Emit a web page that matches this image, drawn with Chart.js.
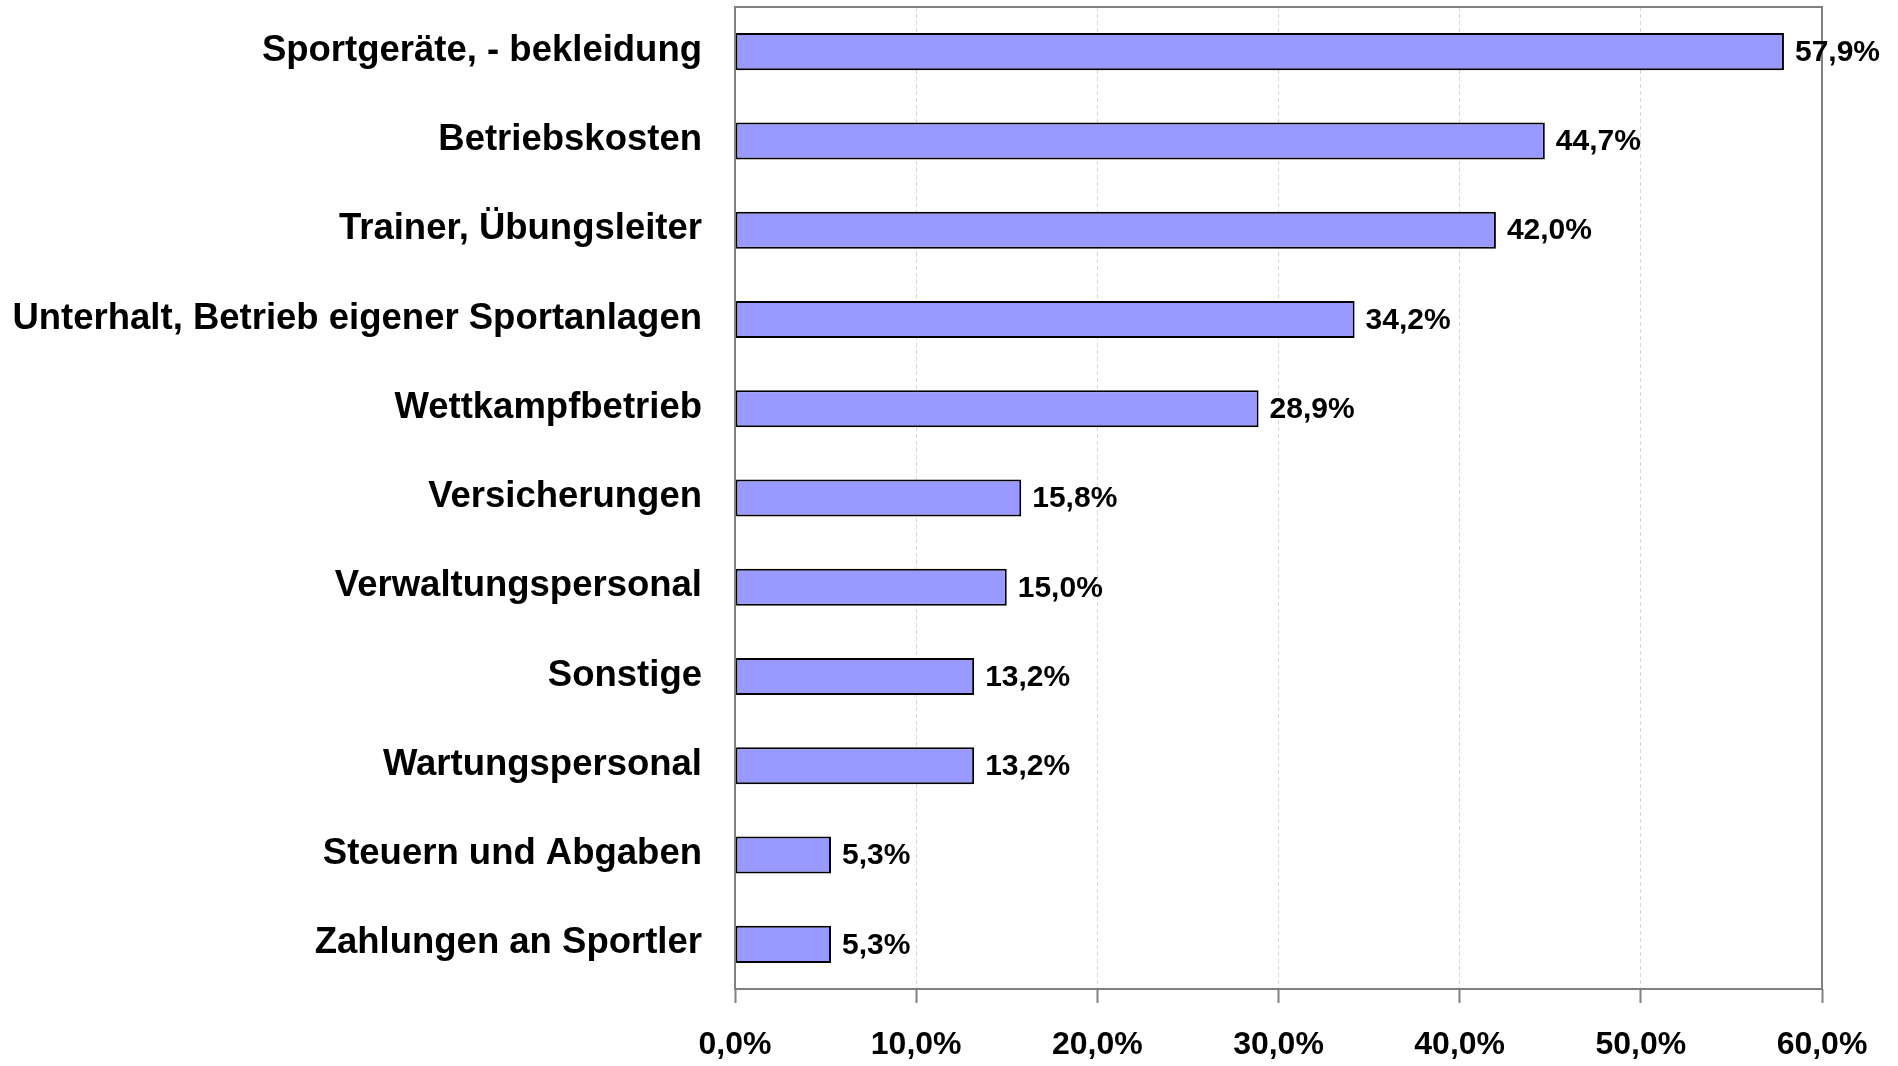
<!DOCTYPE html>
<html>
<head>
<meta charset="utf-8">
<script src="https://cdn.jsdelivr.net/npm/chart.js@4.4.1/dist/chart.umd.min.js"></script>
<style>
  html, body { margin: 0; padding: 0; background: #fff; }
  #wrap { width: 1898px; height: 1066px; position: relative; }
</style>
</head>
<body>
<div id="wrap"><canvas id="chart"></canvas></div>
<script>
const categories = [
    'Sportgeräte, - bekleidung',
    'Betriebskosten',
    'Trainer, Übungsleiter',
    'Unterhalt, Betrieb eigener Sportanlagen',
    'Wettkampfbetrieb',
    'Versicherungen',
    'Verwaltungspersonal',
    'Sonstige',
    'Wartungspersonal',
    'Steuern und Abgaben',
    'Zahlungen an Sportler',
];
const values = [57.9, 44.7, 42.0, 34.2, 28.9, 15.8, 15.0, 13.2, 13.2, 5.3, 5.3];
const xMin = 0;
const xMax = 60;
const xStep = 10;

const FAMILY = "'Liberation Sans', Arial, sans-serif";

function pct(v) {
    return v.toFixed(1).replace('.', ',') + '%';
}

const frame = {
    id: 'frame',
    afterDatasetsDraw(chart) {
        const { ctx, chartArea: a } = chart;
        ctx.save();
        ctx.strokeStyle = '#808080';
        ctx.lineWidth = 2;
        ctx.strokeRect(a.left, a.top, a.right - a.left, a.bottom - a.top);
        ctx.restore();
    },
};

// all texts drawn here, positions taken from the chart's own scales
const texts = {
    id: 'texts',
    afterDraw(chart) {
        const { ctx, chartArea: a } = chart;
        const xs = chart.scales.x;
        const ys = chart.scales.y;
        const meta = chart.getDatasetMeta(0);
        ctx.save();
        ctx.fillStyle = '#000';
        ctx.textBaseline = 'middle';

        ctx.font = 'bold 36.5px ' + FAMILY;
        ctx.textAlign = 'right';
        categories.forEach((c, i) => {
            ctx.fillText(c, a.left - 33, ys.getPixelForValue(i) - 1);
        });

        ctx.font = 'bold 32px ' + FAMILY;
        ctx.textAlign = 'center';
        xs.ticks.forEach(t => {
            ctx.fillText(pct(t.value), xs.getPixelForValue(t.value), 1045);
        });

        ctx.font = 'bold 30px ' + FAMILY;
        ctx.textAlign = 'left';
        meta.data.forEach((bar, i) => {
            ctx.fillText(pct(values[i]), bar.x + 11, bar.y + 1);
        });
        ctx.restore();
    },
};

new Chart(document.getElementById('chart'), {
    type: 'bar',
    data: {
        labels: categories,
        datasets: [{
            data: values,
            backgroundColor: '#9999ff',
            borderColor: '#000',
            borderWidth: 2,
            borderSkipped: false,
            barPercentage: 0.415,
            categoryPercentage: 1,
        }],
    },
    options: {
        indexAxis: 'y',
        responsive: true,
        maintainAspectRatio: false,
        animation: false,
        layout: { padding: { top: 7, right: 76, left: 0, bottom: 0 } },
        plugins: {
            legend: { display: false },
            tooltip: { enabled: false },
        },
        scales: {
            x: {
                min: xMin,
                max: xMax,
                ticks: { stepSize: xStep, display: false },
                grid: {
                    color: ctx => (ctx.index === 0 || ctx.index === 6) ? 'rgba(0,0,0,0)' : '#d6d6d6',
                    lineWidth: 1,
                    tickLength: 14,
                    tickColor: '#808080',
                    tickWidth: 2,
                },
                border: { display: false, dash: [4, 3] },
                afterFit(scale) { scale.height = 77; },
            },
            y: {
                ticks: { display: false },
                grid: { display: false },
                border: { display: false },
                afterFit(scale) { scale.width = 735; },
            },
        },
    },
    plugins: [frame, texts],
});
</script>
</body>
</html>
